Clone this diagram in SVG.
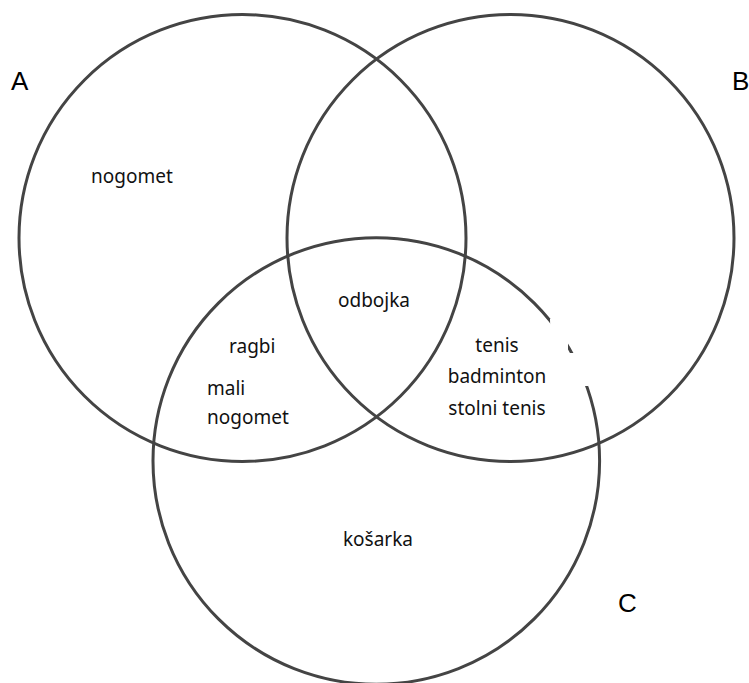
<svg xmlns="http://www.w3.org/2000/svg" width="749" height="683" viewBox="0 0 749 683">
<style>
.c{fill:none;stroke:#444;stroke-width:3}
.t{font-family:"Noto Sans","Open Sans",sans-serif;font-size:19px;fill:#111}
.l{font-family:"Liberation Sans",Arial,sans-serif;font-size:26px;fill:#000}
.m{text-anchor:middle}
</style>
<rect width="749" height="683" fill="#fff"/>
<g id="circleA"><circle class="c" cx="242.5" cy="238" r="223.5"/></g>
<g id="circleB"><circle class="c" cx="510.5" cy="238" r="223.5"/></g>
<g id="circleC"><circle class="c" cx="376.3" cy="461" r="223.3"/></g>
<g id="mask" fill="#fff">
<polygon points="550,319 568,319 568,352 551,352"/>
<polygon points="570,353 588,353 588,386 571,386"/>
</g>
<g id="labels">
<text class="l" x="11" y="90">A</text>
<text class="l" x="732" y="90">B</text>
<text class="l" x="618" y="612">C</text>
</g>
<g id="regionA"><text class="t" x="91" y="183">nogomet</text></g>
<g id="regionABC"><text class="t m" x="374" y="307">odbojka</text></g>
<g id="regionAC">
<text class="t" x="229" y="353">ragbi</text>
<text class="t" x="207" y="395">mali</text>
<text class="t" x="207" y="424">nogomet</text>
</g>
<g id="regionBC">
<text class="t m" x="497" y="352">tenis</text>
<text class="t m" x="497" y="383">badminton</text>
<text class="t m" x="497" y="415">stolni tenis</text>
</g>
<g id="regionC"><text class="t m" x="378" y="546">košarka</text></g>
<g id="connectors"/>
</svg>
